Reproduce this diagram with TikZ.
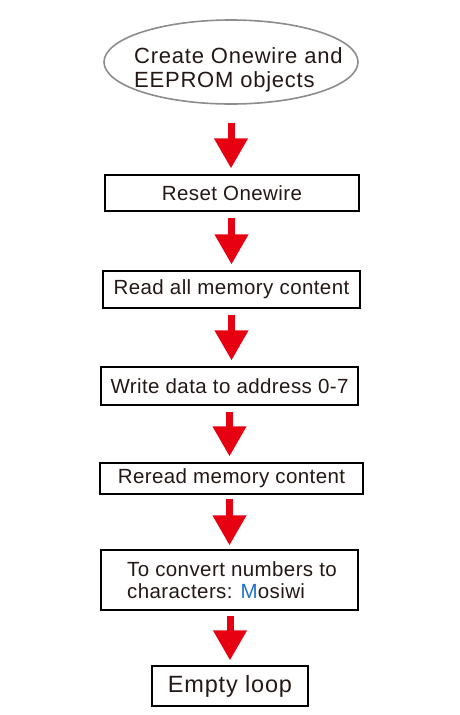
\documentclass[tikz,border=0pt]{standalone}
\usepackage{fontspec}
\setmainfont{Liberation Sans}[LetterSpace=2]
\newfontfamily\widefont{Liberation Sans}[LetterSpace=3.5]
\usetikzlibrary{arrows.meta,shapes.geometric}
\definecolor{arrred}{HTML}{E60012}
\definecolor{txt}{HTML}{231815}
\definecolor{ellgray}{HTML}{8C8C8C}
\definecolor{mblue}{HTML}{1E6FD0}
\begin{document}
\begin{tikzpicture}[x=1pt,y=-1pt,
  ell/.style={ellipse, draw=ellgray, line width=1.6pt, inner sep=0pt,
    minimum width=254pt, minimum height=84pt},
  elltext/.style={anchor=west, inner sep=0pt, text=txt, align=left,
    font=\widefont\fontsize{22}{23.5}\selectfont},
  box/.style={rectangle, draw=black, line width=1.2pt, inner sep=0pt, text=txt,
    font=\fontsize{20.5}{22.5}\selectfont},
  bigarrow/.style={draw=arrred, line width=7pt,
    -{Triangle[width=32pt,length=30pt,fill=arrred,color=arrred]}}
]
\useasboundingbox (0,0) rectangle (460,715);
\node[ell] (e) at (231,62) {};
\node[elltext] (et) at (134,70) {Create Onewire and\\EEPROM objects};
\node[box, minimum width=254pt, minimum height=36pt] (b1) at (232,193) {Reset Onewire};
\node[box, minimum width=257pt, minimum height=37pt] (b2) at (231.5,289.5) {Read all memory content};
\node[box, minimum width=257pt, minimum height=38pt] (b3) at (229.5,386) {Write data to address 0-7};
\node[box, minimum width=263pt, minimum height=31pt] (b4) at (231.5,478.5) {Reread memory content};
\node[box, minimum width=257pt, minimum height=60pt, align=left] (b5) at (229.5,580)
  {\hspace*{5pt}To convert numbers to\\\hspace*{5pt}characters: {\color{mblue}M}osiwi};
\node[box, minimum width=156pt, minimum height=40pt, font=\widefont\fontsize{23.5}{26}\selectfont] (b6) at (230,686) {Empty loop};

\draw[bigarrow] ([yshift=-18pt]e.south) -- ([yshift=6pt]e.south |- b1.north);
\draw[bigarrow] ([yshift=-6pt]b2.north |- b1.south) -- ([yshift=6pt]b2.north);
\draw[bigarrow] ([yshift=-6pt]b2.south) -- ([yshift=6pt]b2.south |- b3.north);
\draw[bigarrow] ([yshift=-6pt]b3.south) -- ([yshift=6pt]b3.south |- b4.north);
\draw[bigarrow] ([yshift=-4pt]b5.north |- b4.south) -- ([yshift=4pt]b5.north);
\draw[bigarrow] ([yshift=-5pt]b6.north |- b5.south) -- ([yshift=5pt]b6.north);
\end{tikzpicture}
\end{document}
